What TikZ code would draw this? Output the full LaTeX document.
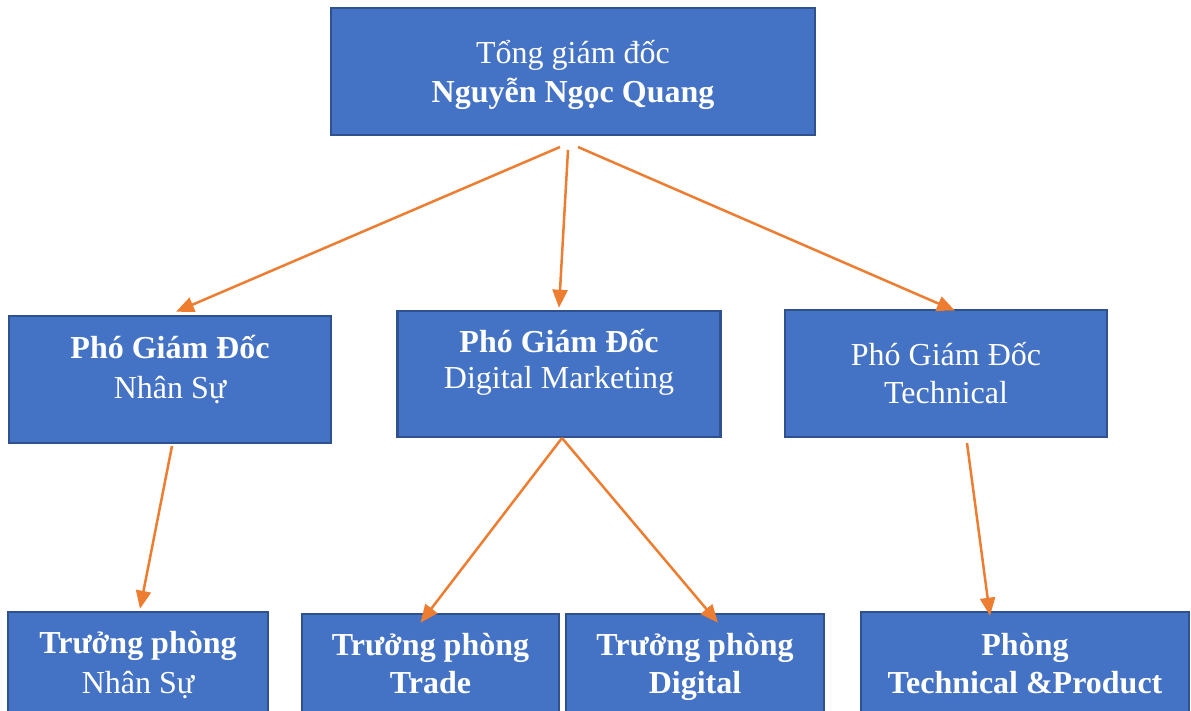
\documentclass[tikz,border=0pt]{standalone}
\usepackage{fontspec}
\setmainfont{Liberation Serif}
\usetikzlibrary{arrows.meta,calc}
\definecolor{boxfill}{HTML}{4472C4}
\definecolor{boxline}{HTML}{2F528F}
\definecolor{arrowc}{HTML}{ED7D31}
\tikzset{
  box/.style={draw=boxline, fill=boxfill, line width=2.5pt, rectangle, inner sep=0pt},
  txt/.style={text=white, font=\fontsize{32}{38}\selectfont, anchor=base, inner sep=0pt},
  btxt/.style={txt, font=\fontsize{32}{38}\selectfont\bfseries},
  link/.style={draw=arrowc, line width=2.5pt, -{Triangle[length=18pt,width=15pt]}}
}
\begin{document}
\begin{tikzpicture}[x=1pt,y=-1pt]
\useasboundingbox (0,0) rectangle (1191,710);
\clip (0,0) rectangle (1191,710);
% boxes
\node[box, minimum width=484pt, minimum height=127pt] (top) at (573,71.5) {};
\node[box, minimum width=322pt, minimum height=127pt] (pgdns) at (170,379.5) {};
\node[box, minimum width=323pt, minimum height=126pt] (pgddm) at (559,374) {};
\node[box, minimum width=322pt, minimum height=127pt] (pgdtech) at (946,373.5) {};
\node[box, minimum width=260pt, minimum height=140pt] (tpns) at (138,682) {};
\node[box, minimum width=257pt, minimum height=140pt] (tptrade) at (430.5,684) {};
\node[box, minimum width=258pt, minimum height=140pt] (tpdig) at (695,684) {};
\node[box, minimum width=328pt, minimum height=140pt] (phong) at (1025,682) {};
% texts
\node[txt] (t1) at (573,63) {Tổng giám đốc};
\node[btxt] (t2) at (573,102) {Nguyễn Ngọc Quang};
\node[btxt] (t3) at (170,358) {Phó Giám Đốc};
\node[txt] (t4) at (170,398) {Nhân Sự};
\node[btxt] (t5) at (559,352) {Phó Giám Đốc};
\node[txt] (t6) at (559,388) {Digital Marketing};
\node[txt] (t7) at (946,365) {Phó Giám Đốc};
\node[txt] (t8) at (946,403) {Technical};
\node[btxt] (t9) at (138,653) {Trưởng phòng};
\node[txt] (t10) at (138,693) {Nhân Sự};
\node[btxt] (t11) at (430.5,655) {Trưởng phòng};
\node[btxt] (t12) at (430.5,693) {Trade};
\node[btxt] (t13) at (695,655) {Trưởng phòng};
\node[btxt] (t14) at (695,693) {Digital};
\node[btxt] (t15) at (1025,655) {Phòng};
\node[btxt] (t16) at (1025,693) {Technical \&Product};
% connector start points
\coordinate (s1) at (560,147);
\coordinate (s2) at (568,150);
\coordinate (s3) at (578,147);
\coordinate (s4) at (172,446);
\coordinate (s5) at (562,438);
\coordinate (s6) at (967,443);
% connectors
\draw[link] (s1) -- ($(pgdns.north)+(6,-3)$);
\draw[link] (s2) -- ($(pgddm.north)+(0,-2)$);
\draw[link] (s3) -- ($(pgdtech.north)+(9,2)$);
\draw[link] (s4) -- ($(tpns.north)+(2,-2)$);
\draw[link] (s5) -- ($(tptrade.north)+(-10,10)$);
\draw[link] (s5) -- ($(tpdig.north)+(23,10)$);
\draw[link] (s6) -- ($(phong.north)+(-35,5)$);
\end{tikzpicture}
\end{document}
